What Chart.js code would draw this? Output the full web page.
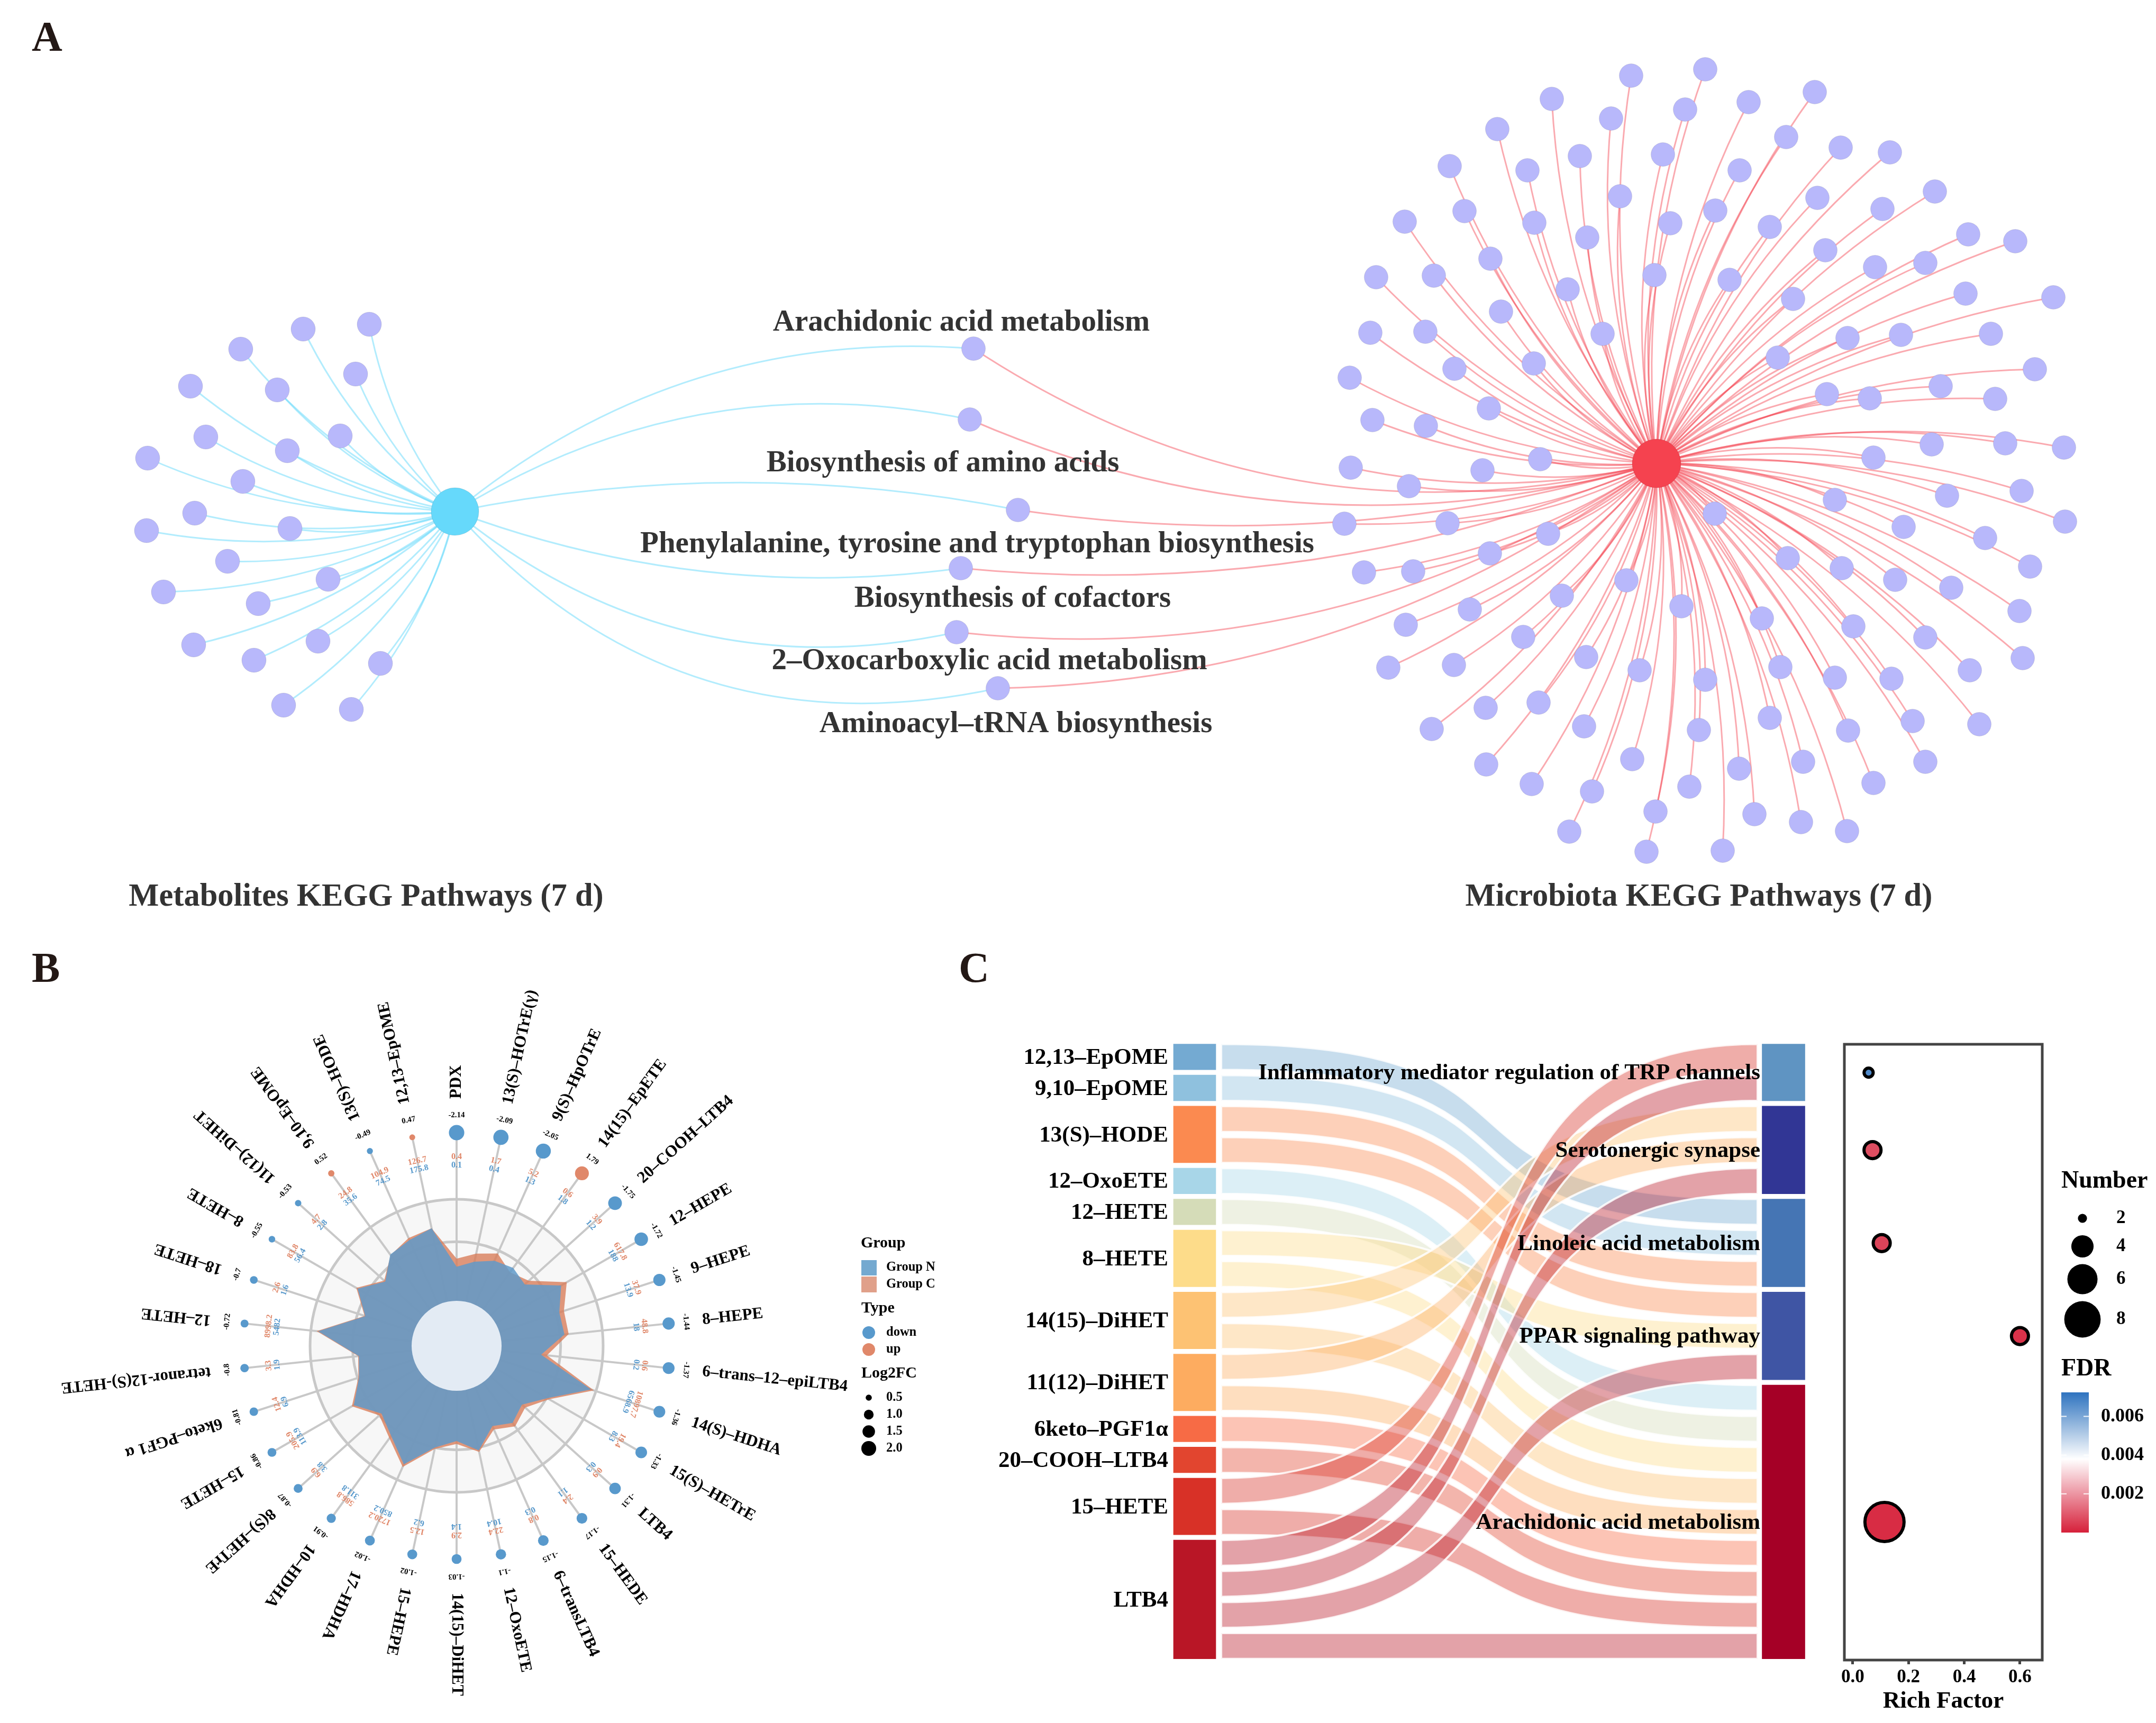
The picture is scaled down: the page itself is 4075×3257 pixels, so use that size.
<!DOCTYPE html>
<html>
<head>
<meta charset="utf-8">
<title>KEGG pathways, radar, sankey</title>
<script src="https://cdn.jsdelivr.net/npm/chart.js@4/dist/chart.umd.min.js"></script>
<style>
  html, body { margin: 0; padding: 0; background: #fff; }
  #page { position: relative; width: 4075px; height: 3257px; overflow: hidden; background: #fff; }
  canvas { position: absolute; }
</style>
</head>
<body>
<div id="page">
  <canvas id="network" width="4075" height="1750" style="left:0;top:0"></canvas>
  <canvas id="radar" width="1800" height="1507" style="left:0;top:1750px"></canvas>
  <canvas id="sankey" width="1630" height="1507" style="left:1800px;top:1750px"></canvas>
  <canvas id="dots" width="645" height="1357" style="left:3430px;top:1900px"></canvas>
</div>
<script>
// ---- panel A: pathway network, node layout
const metaboliteHub = [860, 967];
const microbiotaHub = [3131, 876];
const metaboliteLeaves = [[698,613],[573,622],[455,660],[672,707],[360,730],[524,737],[643,824],[389,826],[543,852],[279,866],[459,910],[368,970],[277,1003],[548,999],[430,1061],[309,1119],[620,1095],[488,1141],[366,1219],[601,1212],[480,1248],[719,1254],[536,1333],[664,1341]];
const microbiotaLeaves = [[3083,143],[3223,131],[2933,187],[3045,224],[3185,207],[3305,193],[3430,174],[2830,244],[3376,259],[3143,292],[2986,295],[2887,322],[3288,322],[3479,279],[3572,288],[2740,314],[2768,399],[3657,362],[3435,374],[3558,395],[3062,371],[3242,398],[3157,422],[2900,421],[3345,429],[3000,449],[2655,419],[2817,489],[3450,473],[3720,443],[3809,456],[3639,497],[3544,505],[3127,520],[3269,529],[2710,521],[2601,524],[2963,547],[3715,555],[3881,562],[3389,565],[2837,589],[3029,631],[2694,627],[2590,629],[3492,639],[3593,633],[3763,631],[3360,676],[2899,687],[2749,697],[2551,714],[3846,698],[3668,730],[3453,745],[3534,753],[3771,754],[2814,772],[2594,794],[2695,805],[3651,840],[3790,838],[3901,846],[2911,868],[3541,865],[2553,884],[2802,889],[2663,919],[3821,928],[3680,937],[3468,945],[3241,971],[3903,986],[3598,996],[2541,990],[2736,989],[2926,1009],[3752,1017],[2816,1046],[2578,1082],[2671,1080],[3379,1055],[3481,1074],[3837,1071],[3582,1096],[3074,1097],[3688,1111],[2952,1126],[3178,1146],[2778,1152],[3817,1155],[2657,1181],[3330,1169],[3503,1184],[2879,1204],[3639,1205],[2624,1262],[2748,1257],[2998,1242],[3823,1244],[3099,1267],[3365,1261],[3723,1267],[3223,1285],[3468,1281],[3575,1283],[2908,1328],[2808,1338],[3345,1357],[3615,1363],[2706,1378],[2994,1373],[3211,1380],[3493,1381],[3741,1369],[3085,1435],[2809,1445],[3287,1453],[3408,1440],[3639,1440],[2895,1482],[3193,1487],[3541,1480],[3009,1496],[3129,1534],[3316,1539],[3404,1554],[3491,1571],[2966,1572],[3112,1610],[3256,1608]];
const pathwayNames = ["Arachidonic acid metabolism", "Biosynthesis of amino acids", "Phenylalanine, tyrosine and tryptophan biosynthesis", "Biosynthesis of cofactors", "2–Oxocarboxylic acid metabolism", "Aminoacyl–tRNA biosynthesis"];
const pathwayNodes = [[1840,659],[1833,793],[1924,964],[1816,1074],[1808,1195],[1886,1301]];
const pathwayLabelAt = [[1817,606],[1782,872],[1847,1025],[1914,1128],[1870,1246],[1920,1365]];
const bendFromMetabolite = [0.2, 0.2, 0.1, -0.125, -0.24, -0.29];
const bendFromMicrobiota = [0.22, 0.18, 0.11, 0.125, 0.18, 0.16];

// ---- panel B: radar
const metaboliteNames = ["PDX","13(S)–HOTrE(γ)","9(S)–HpOTrE","14(15)–EpETE","20–COOH–LTB4","12–HEPE","9–HEPE","8–HEPE","6–trans–12–epiLTB4","14(S)–HDHA","15(S)–HETrE","LTB4","15–HEDE","6–transLTB4","12–OxoETE","14(15)–DiHET","15–HEPE","17–HDHA","10–HDHA","8(S)–HETrE","15–HETE","6keto–PGF1 α","tetranor-12(S)-HETE","12–HETE","18–HETE","8–HETE","11(12)–DiHET","9,10–EpOME","13(S)–HODE","12,13–EpOME"];
const log2fc = [-2.14,-2.09,-2.05,1.79,-1.75,-1.72,-1.45,-1.44,-1.37,-1.36,-1.33,-1.31,-1.17,-1.15,-1.1,-1.03,-1.02,-1.02,-0.91,-0.87,-0.86,-0.81,-0.8,-0.72,-0.7,-0.55,-0.53,0.52,-0.49,0.47];
const groupCLabels = ["0.4","1.7","5.2","0.6","3.9","617.8","37.9","48.8","0.6","10897.7","19.4","0.9","2.4","0.8","22.4","2.9","12.5","1720.2","586.8","6.9","205.9","12.4","3.3","8998.2","2.6","83.8","4.7","24.8","104.9","126.7"];
const groupNLabels = ["0.1","0.4","1.3","1.8","1.2","188","13.9","18","0.2","6568.9","8.3","0.3","1.1","0.3","10.4","1.4","6.2","850.2","311.8","3.8","113.9","6.9","1.9","5482","1.6","56.4","2.8","35.6","74.5","175.8"];
const groupCRadar = [59.5,64.3,69,62,66.3,86.8,77,76.9,62,98.5,73,63,68,62.5,74,67,72,90.5,78,71,82.5,70.5,67.5,96,66,79,66.5,76.5,80.5,82];
const groupNRadar = [54,58.7,63.5,65.7,62.6,82.4,73.7,74,58,96.5,71.5,60,65,60,73,65,71,88.5,76,69,81,70,67,95,65.5,78,65.5,77,79,82];
const radarRings = [0, 71, 100];
const radarHole = 30.7;
const radarTip = 145.5;

// ---- panel C: sankey
const sourceNames = ["12,13–EpOME","9,10–EpOME","13(S)–HODE","12–OxoETE","12–HETE","8–HETE","14(15)–DiHET","11(12)–DiHET","6keto–PGF1α","20–COOH–LTB4","15–HETE","LTB4"];
const sourceCounts = [1,1,2,1,1,2,2,2,1,1,2,4];
const targetNames = ["Inflammatory mediator regulation of TRP channels","Serotonergic synapse","Linoleic acid metabolism","PPAR signaling pathway","Arachidonic acid metabolism"];
const targetCounts = [2,3,3,3,9];
// for every flow, top to bottom on the left: its slot on the right
const flowTargetSlot = [5,6,7,8,11,12,9,13,2,14,3,15,16,17,0,18,1,4,10,19];

// ---- panel C: dot plot
const richFactor = [0.057,0.071,0.104,0.6,0.114];
const geneNumber = [2,3,3,3,9];
const fdr = [0.0067,0.00076,0.0006,0.0003,0.0002];
const richTicks = [0,0.2,0.4,0.6];
const numberLegend = [2,4,6,8];
const fdrTicks = [0.006,0.004,0.002];

const SERIF = '"Liberation Serif"';
const sourceColors = ["#74aad2","#8fc1de","#fb8a50","#a8d6e8","#d5dcb8","#fddc8a","#fdc273","#fdac60","#f76b45","#e2452f","#d83127","#b91626"];
const targetColors = ["#5f94c2","#313695","#4575b4","#3f55a4","#a50026"];
const SLOT_GAP = 0.17;

const common = { responsive: false, animation: false, devicePixelRatio: 1, events: [] };
const quiet = { legend: { display: false }, tooltip: { enabled: false } };

function label(ctx, str, x, y, font, color, align) {
    ctx.font = font;
    ctx.fillStyle = color || '#000';
    ctx.textAlign = align || 'left';
    ctx.textBaseline = 'middle';
    ctx.fillText(str, x, y);
}

function disc(ctx, x, y, r, color) {
    ctx.fillStyle = color;
    ctx.beginPath();
    ctx.arc(x, y, r, 0, Math.PI * 2);
    ctx.fill();
}

function toPoints(list) {
    return list.map(p => ({ x: p[0], y: p[1] }));
}

// bent edge between two nodes, bend is relative to the edge length
function edge(ctx, chart, a, b, bend) {
    const x0 = chart.scales.x.getPixelForValue(a[0]), y0 = chart.scales.y.getPixelForValue(a[1]);
    const x1 = chart.scales.x.getPixelForValue(b[0]), y1 = chart.scales.y.getPixelForValue(b[1]);
    const dx = x1 - x0, dy = y1 - y0;
    ctx.beginPath();
    ctx.moveTo(x0, y0);
    ctx.quadraticCurveTo((x0 + x1) / 2 + bend * dy, (y0 + y1) / 2 - bend * dx, x1, y1);
    ctx.stroke();
}

new Chart(document.getElementById('network'), {
    type: 'scatter',
    data: {
        datasets: [
            { data: [{ x: metaboliteHub[0], y: metaboliteHub[1] }], pointRadius: 45, backgroundColor: '#66d9fb' },
            { data: [{ x: microbiotaHub[0], y: microbiotaHub[1] }], pointRadius: 46, backgroundColor: '#f5424f' },
            { data: toPoints(pathwayNodes), pointRadius: 22.5, backgroundColor: '#b8b8fb' },
            { data: toPoints(metaboliteLeaves), pointRadius: 23, backgroundColor: '#b8b8fb' },
            { data: toPoints(microbiotaLeaves), pointRadius: 22.5, backgroundColor: '#b8b8fb' }
        ]
    },
    options: {
        ...common,
        layout: { autoPadding: false },
        plugins: quiet,
        scales: {
            x: { type: 'linear', display: false, min: 0, max: 4075 },
            y: { type: 'linear', display: false, min: 0, max: 1750, reverse: true }
        }
    },
    plugins: [{
        id: 'networkExtras',
        beforeDatasetsDraw(chart) {
            const ctx = chart.ctx;
            ctx.save();
            ctx.lineWidth = 3;
            ctx.strokeStyle = 'rgba(102,217,251,.5)';
            metaboliteLeaves.forEach(p => edge(ctx, chart, metaboliteHub, p, 0.125));
            pathwayNodes.forEach((p, i) => edge(ctx, chart, metaboliteHub, p, bendFromMetabolite[i]));
            ctx.strokeStyle = 'rgba(245,66,79,.45)';
            microbiotaLeaves.forEach(p => edge(ctx, chart, microbiotaHub, p, 0.115));
            pathwayNodes.forEach((p, i) => edge(ctx, chart, microbiotaHub, p, bendFromMicrobiota[i]));
            ctx.restore();
        },
        afterDatasetsDraw(chart) {
            const ctx = chart.ctx;
            ctx.save();
            pathwayNames.forEach((name, i) => {
                label(ctx, name, pathwayLabelAt[i][0], pathwayLabelAt[i][1] + 4, 'bold 57px ' + SERIF, '#333', 'center');
            });
            label(ctx, 'Metabolites KEGG Pathways (7 d)', 692, 1696, 'bold 60.5px ' + SERIF, '#333', 'center');
            label(ctx, 'Microbiota KEGG Pathways (7 d)', 3211, 1696, 'bold 60.5px ' + SERIF, '#333', 'center');
            label(ctx, 'A', 60, 75, 'bold 80px ' + SERIF, '#231815');
            ctx.restore();
        }
    }]
});

const BLUE = '#5899cc', ORANGE = '#e0886a';
const dotRadius = fc => 11.6 * Math.sqrt(Math.abs(fc)) - 2.4;

new Chart(document.getElementById('radar'), {
    type: 'radar',
    data: {
        labels: metaboliteNames,
        datasets: [
            {
                data: metaboliteNames.map(() => radarTip), showLine: false, fill: false, clip: false,
                pointRadius: log2fc.map(dotRadius), pointBorderWidth: 0,
                pointBackgroundColor: log2fc.map(v => v < 0 ? BLUE : ORANGE)
            },
            { data: groupNRadar, fill: true, backgroundColor: 'rgba(96,154,201,.85)', borderWidth: 0, pointRadius: 0 },
            { data: groupCRadar, fill: true, backgroundColor: 'rgba(216,125,90,.8)', borderWidth: 0, pointRadius: 0 }
        ]
    },
    options: {
        ...common,
        layout: { autoPadding: false, padding: { left: 460, right: 534, top: 391, bottom: 310 } },
        plugins: quiet,
        scales: {
            r: {
                min: 0, max: radarTip,
                afterBuildTicks: axis => { axis.ticks = radarRings.map(value => ({ value })); },
                ticks: { display: false },
                pointLabels: { display: false },
                grid: { circular: true, color: '#c8c8c8', lineWidth: 5 },
                angleLines: { color: '#c8c8c8', lineWidth: 4 }
            }
        }
    },
    plugins: [{
        id: 'radarExtras',
        beforeDraw(chart) {
            const s = chart.scales.r;
            disc(chart.ctx, s.xCenter, s.yCenter, s.getDistanceFromCenterForValue(100), '#f7f7f7');
        },
        afterDatasetsDraw(chart) {
            const ctx = chart.ctx, s = chart.scales.r;
            ctx.save();
            disc(ctx, s.xCenter, s.yCenter, s.getDistanceFromCenterForValue(radarHole), '#e3ebf4');
            metaboliteNames.forEach((name, i) => {
                const a = s.getPointPosition(i, 0).angle;
                const along = (r, str, font, color, turn, align) => {
                    ctx.save();
                    ctx.translate(s.xCenter + r * Math.cos(a), s.yCenter + r * Math.sin(a));
                    ctx.rotate(a + turn);
                    label(ctx, str, 0, 0, font, color, align);
                    ctx.restore();
                };
                along(467, name, 'bold 31px ' + SERIF, '#000', 0, 'left');
                along(436, String(log2fc[i]), 'bold 15px ' + SERIF, '#000', Math.PI / 2, 'center');
                along(357, groupCLabels[i], 'bold 16px ' + SERIF, ORANGE, Math.PI / 2, 'center');
                along(341, groupNLabels[i], 'bold 16px ' + SERIF, BLUE, Math.PI / 2, 'center');
            });
            // legend, in page coordinates
            ctx.translate(0, -1750);
            const bold = px => 'bold ' + px + 'px ' + SERIF;
            label(ctx, 'Group', 1627, 2350, bold(30));
            ctx.fillStyle = '#74a9d0';
            ctx.fillRect(1628, 2382, 29, 29);
            ctx.fillStyle = '#e0a08a';
            ctx.fillRect(1628, 2413, 29, 30);
            label(ctx, 'Group N', 1675, 2396, bold(24.5));
            label(ctx, 'Group C', 1675, 2428, bold(24.5));
            label(ctx, 'Type', 1628, 2473, bold(30));
            disc(ctx, 1642, 2519, 12, BLUE);
            disc(ctx, 1642, 2551, 12, ORANGE);
            label(ctx, 'down', 1675, 2519, bold(24.5));
            label(ctx, 'up', 1675, 2551, bold(24.5));
            label(ctx, 'Log2FC', 1628, 2596, bold(30));
            [0.5, 1, 1.5, 2].forEach((v, i) => {
                const y = 2642 + i * 32;
                disc(ctx, 1642, y, dotRadius(v), '#000');
                label(ctx, v.toFixed(1), 1675, y, bold(24.5));
            });
            label(ctx, 'B', 60, 1835, 'bold 80px ' + SERIF, '#231815');
            ctx.restore();
        }
    }]
});

// stack the nodes in slot units: one flow is one slot
function stack(counts) {
    let at = 0;
    return counts.map(n => {
        const node = { from: at, to: at + n - SLOT_GAP, mid: at + (n - SLOT_GAP) / 2 };
        at += n;
        return node;
    });
}
const sourceStack = stack(sourceCounts);
const targetStack = stack(targetCounts);
const slotOwner = [];
sourceCounts.forEach((n, i) => { for (let k = 0; k < n; k++) slotOwner.push(i); });

function hexAlpha(hex, a) {
    const n = parseInt(hex.slice(1), 16);
    return `rgba(${n >> 16},${(n >> 8) & 255},${n & 255},${a})`;
}

new Chart(document.getElementById('sankey'), {
    type: 'bar',
    data: {
        datasets: [
            {
                data: sourceStack.map(n => ({ x: 0, y: [n.from, n.to] })),
                backgroundColor: sourceColors, barThickness: 80, grouped: false, clip: false
            },
            {
                data: targetStack.map(n => ({ x: 1, y: [n.from, n.to] })),
                backgroundColor: targetColors, barThickness: 81, grouped: false, clip: false
            }
        ]
    },
    options: {
        ...common,
        layout: { autoPadding: false, padding: { left: 458, right: 59, top: 223.6, bottom: 111.4 } },
        plugins: quiet,
        scales: {
            x: { type: 'linear', display: false, offset: false, min: 0, max: 1 },
            y: { type: 'linear', display: false, min: 0, max: 20, reverse: true }
        }
    },
    plugins: [{
        id: 'sankeyExtras',
        afterDatasetsDraw(chart) {
            const ctx = chart.ctx, xs = chart.scales.x, ys = chart.scales.y;
            const x0 = xs.getPixelForValue(0.045), x1 = xs.getPixelForValue(0.956);
            const reach = (x1 - x0) * 0.68;
            ctx.save();
            flowTargetSlot.forEach((to, from) => {
                const a0 = ys.getPixelForValue(from), a1 = ys.getPixelForValue(from + 1 - SLOT_GAP);
                const b0 = ys.getPixelForValue(to), b1 = ys.getPixelForValue(to + 1 - SLOT_GAP);
                ctx.beginPath();
                ctx.moveTo(x0, a0);
                ctx.bezierCurveTo(x0 + reach, a0, x1 - reach, b0, x1, b0);
                ctx.lineTo(x1, b1);
                ctx.bezierCurveTo(x1 - reach, b1, x0 + reach, a1, x0, a1);
                ctx.closePath();
                ctx.fillStyle = hexAlpha(sourceColors[slotOwner[from]], 0.4);
                ctx.fill();
                ctx.strokeStyle = 'rgba(255,255,255,.85)';
                ctx.lineWidth = 4;
                ctx.stroke();
            });
            sourceNames.forEach((name, i) => {
                label(ctx, name, xs.getPixelForValue(0) - 50, ys.getPixelForValue(sourceStack[i].mid) + 2, 'bold 43px ' + SERIF, '#000', 'right');
            });
            targetNames.forEach((name, i) => {
                label(ctx, name, xs.getPixelForValue(1) - 44, ys.getPixelForValue(targetStack[i].mid) + 2, 'bold 43px ' + SERIF, '#000', 'right');
            });
            label(ctx, 'C', 12, 85, 'bold 80px ' + SERIF, '#231815');
            ctx.restore();
        }
    }]
});

// colour scale of the FDR bar
const FDR_TOP = 0.00724, FDR_MID = 0.0038;
const LOW = [214, 32, 58], HIGH = [46, 115, 191];
function fdrColor(v) {
    const far = v < FDR_MID ? LOW : HIGH;
    const t = v < FDR_MID ? 1 - v / FDR_MID : (v - FDR_MID) / (FDR_TOP - FDR_MID);
    const c = far.map(k => Math.round(255 + (k - 255) * t));
    return `rgb(${c[0]},${c[1]},${c[2]})`;
}
const numberRadius = n => 13.6 * Math.sqrt(n - 1.6);

new Chart(document.getElementById('dots'), {
    type: 'scatter',
    data: {
        datasets: [{
            data: richFactor.map((v, i) => ({ x: v, y: targetStack[i].mid })),
            pointRadius: geneNumber.map(numberRadius),
            pointBackgroundColor: fdr.map(fdrColor),
            pointBorderColor: '#000',
            pointBorderWidth: 6
        }]
    },
    options: {
        ...common,
        layout: { autoPadding: false, padding: { left: 56, right: 215, top: 74, bottom: 0 } },
        plugins: quiet,
        scales: {
            x: {
                type: 'linear', min: -0.03, max: 0.68,
                afterBuildTicks: axis => { axis.ticks = richTicks.map(value => ({ value })); },
                afterFit: axis => { axis.height = 119; },
                grid: { drawOnChartArea: false, color: '#444', tickLength: 8, tickWidth: 5 },
                border: { display: false },
                ticks: {
                    color: '#000', padding: 4, maxRotation: 0, autoSkip: false,
                    font: { family: SERIF, size: 35, weight: 'bold' },
                    callback: v => v.toFixed(1)
                },
                title: {
                    display: true, text: 'Rich Factor', color: '#000', padding: { top: 0, bottom: 14 },
                    font: { family: SERIF, size: 45, weight: 'bold' }
                }
            },
            y: { type: 'linear', display: false, min: 0, max: 19.87, reverse: true }
        }
    },
    plugins: [{
        id: 'dotExtras',
        beforeDatasetsDraw(chart) {
            const ctx = chart.ctx, a = chart.chartArea;
            ctx.save();
            ctx.strokeStyle = '#444';
            ctx.lineWidth = 5;
            ctx.strokeRect(a.left, a.top, a.right - a.left, a.bottom - a.top);
            ctx.restore();
        },
        afterDatasetsDraw(chart) {
            const ctx = chart.ctx;
            ctx.save();
            ctx.translate(-3430, -1900);
            const bold = px => 'bold ' + px + 'px ' + SERIF;
            label(ctx, 'Number', 3896, 2233, bold(46));
            [2303, 2356, 2418, 2494].forEach((y, i) => {
                disc(ctx, 3936, y, numberRadius(numberLegend[i]), '#000');
                label(ctx, String(numberLegend[i]), 4000, y, bold(35));
            });
            label(ctx, 'FDR', 3896, 2588, bold(46));
            // colour bar
            const barTop = 2632, barBottom = 2897;
            const yFor = v => barBottom - v / FDR_TOP * (barBottom - barTop);
            const g = ctx.createLinearGradient(0, barTop, 0, barBottom);
            [FDR_TOP, 0.0055, FDR_MID, 0.002, 0].forEach(v => g.addColorStop((yFor(v) - barTop) / (barBottom - barTop), fdrColor(v)));
            ctx.fillStyle = g;
            ctx.fillRect(3896, barTop, 52, barBottom - barTop);
            fdrTicks.forEach(v => {
                const y = yFor(v);
                ctx.fillStyle = 'rgba(255,255,255,.9)';
                ctx.fillRect(3896, y - 1, 10, 2);
                ctx.fillRect(3938, y - 1, 10, 2);
                label(ctx, v.toFixed(3), 3971, y, bold(36));
            });
            ctx.restore();
        }
    }]
});
</script>
</body>
</html>
